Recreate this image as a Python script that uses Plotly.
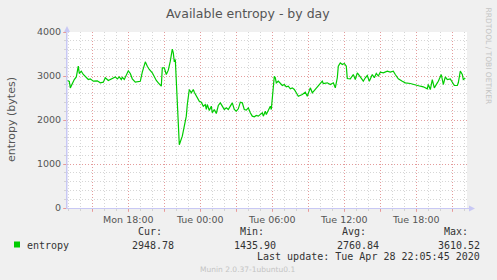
import plotly.graph_objects as go
import pandas as pd

# ---------------- data ----------------
start_time = "2020-04-27 12:55"
offsets_min = [0, 10, 15, 25, 35, 45, 55, 60, 70, 80, 95, 105, 115, 130, 150, 165, 180, 190, 205, 225,
               240, 250, 260, 270, 275, 285, 295, 305, 315, 325, 340, 355, 365, 375, 380, 390, 400, 410, 425, 435,
               445, 455, 470, 475, 485, 495, 505, 515, 525, 530, 535, 540, 550, 555, 560, 575, 585, 595, 600, 610,
               620, 630, 635, 650, 660, 670, 680, 690, 695, 700, 710, 720, 725, 735, 745, 755, 765, 775, 785, 795,
               805, 815, 825, 835, 845, 855, 865, 875, 885, 895, 905, 915, 925, 935, 945, 955, 965, 975, 980, 990,
               995, 1005, 1015, 1020, 1025, 1030, 1035, 1040, 1045, 1055, 1065, 1075, 1085, 1095, 1105, 1115, 1125, 1135, 1145, 1155,
               1175, 1190, 1200, 1215, 1225, 1240, 1255, 1275, 1280, 1300, 1315, 1330, 1340, 1350, 1355, 1365, 1375, 1385, 1395, 1400,
               1415, 1430, 1440, 1450, 1465, 1480, 1490, 1500, 1510, 1525, 1535, 1545, 1555, 1565, 1580, 1600, 1615, 1630, 1640, 1655,
               1675, 1690, 1715, 1730, 1750, 1765, 1780, 1800, 1805, 1815, 1825, 1835, 1850, 1855, 1870, 1880, 1890, 1900, 1915, 1925,
               1935, 1950, 1955, 1965, 1975, 1980, 1990]
entropy = [2898, 2875, 2730, 2845, 2920, 2980, 3223, 3057, 3110, 3034, 2960, 2920, 2936, 2882, 2890, 2845, 2860, 2960, 2898, 2950,
           2980, 2936, 2980, 2920, 2970, 2920, 3034, 3118, 3057, 2936, 2860, 2875, 2880, 3087, 3163, 3322, 3223, 3148, 3072, 2980,
           2898, 2845, 2768, 3186, 3186, 3034, 3133, 3337, 3610.52, 3527, 3322, 3375, 2500, 1900, 1435.90, 1632, 1898, 2087, 2352, 2693,
           2618, 2693, 2632, 2504, 2427, 2405, 2314, 2352, 2239, 2352, 2216, 2314, 2164, 2239, 2148, 2330, 2390, 2314, 2239, 2277,
           2239, 2314, 2390, 2239, 2200, 2254, 2405, 2390, 2239, 2225, 2277, 2164, 2087, 2072, 2103, 2087, 2125, 2164, 2087, 2200,
           2125, 2239, 2314, 2239, 2466, 2807, 2995, 2960, 2845, 2882, 2830, 2784, 2807, 2754, 2768, 2709, 2731, 2693, 2618, 2541,
           2580, 2632, 2541, 2731, 2618, 2693, 2784, 2882, 2830, 2845, 2807, 2845, 2731, 2960, 3223, 3299, 3261, 3284, 3223, 2943,
           2936, 3034, 2920, 3072, 2980, 2882, 2960, 3011, 2882, 3034, 2960, 3057, 3000, 3087, 3072, 3110, 3087, 3110, 3034, 2936,
           2882, 2845, 2830, 2807, 2792, 2768, 2754, 2709, 2807, 2693, 2920, 2731, 2845, 2882, 3034, 2807, 2980, 2920, 2936, 2845,
           2784, 2784, 2845, 3110, 3034, 2920, 2948.78]

x_range = ["2020-04-27 12:53:30", "2020-04-28 22:13:30"]
tick_times = ["2020-04-27 15:00", "2020-04-27 18:00", "2020-04-27 21:00", "2020-04-28 00:00",
              "2020-04-28 03:00", "2020-04-28 06:00", "2020-04-28 09:00", "2020-04-28 12:00",
              "2020-04-28 15:00", "2020-04-28 18:00", "2020-04-28 21:00"]
tick_labels = ["", "Mon 18:00", "", "Tue 00:00", "", "Tue 06:00", "", "Tue 12:00", "", "Tue 18:00", ""]
y_ticks = [0, 1000, 2000, 3000, 4000]

series_name = "entropy"
stat_headers = ["Cur:", "Min:", "Avg:", "Max:"]
stat_values = ["2948.78", "1435.90", "2760.84", "3610.52"]
title = "Available entropy - by day"
y_title = "entropy (bytes)"
last_update = "Last update: Tue Apr 28 22:05:45 2020"
footer = "Munin 2.0.37-1ubuntu0.1"
side_text = "RRDTOOL / TOBI OETIKER"

# ---------------- layout helpers ----------------
W, H = 497, 280
L, R, T, B = 67, 30, 32, 72
PW, PH = W - L - R, H - T - B


def px(x):
    return (x - L) / PW


def py(y):
    return (H - B - y) / PH


times = pd.Timestamp(start_time) + pd.to_timedelta(offsets_min, unit="min")

SANS = "DejaVu Sans"
MONO = "DejaVu Sans Mono"
MAJ = "rgba(240,110,110,0.55)"
MIN = "rgba(200,200,200,0.75)"
AXIS = "#c8c8f4"
TXT = "#555555"

fig = go.Figure()
fig.add_trace(go.Scatter(x=times, y=entropy, mode="lines",
                         line=dict(color="#00cc00", width=1.2), showlegend=False,
                         hoverinfo="skip"))

fig.update_layout(
    width=W, height=H,
    margin=dict(l=L, r=R, t=T, b=B),
    paper_bgcolor="#f0f0f0", plot_bgcolor="#ffffff",
    font=dict(family=SANS, size=9.5, color=TXT),
    showlegend=False,
)

fig.update_xaxes(
    type="date", range=x_range,
    tickmode="array", tickvals=tick_times, ticktext=tick_labels,
    showgrid=True, gridcolor=MAJ, griddash="1px,2px", gridwidth=1,
    ticks="outside", ticklen=3, tickcolor=MAJ,
    tickfont=dict(family=SANS, size=9.5, color=TXT),
    minor=dict(tickmode="linear", tick0="2020-04-27 00:00", dtick=3600000,
               showgrid=True, gridcolor=MIN, griddash="1px,2px", gridwidth=1,
               ticks="outside", ticklen=2, tickcolor=MIN),
    showline=True, linecolor=AXIS, linewidth=1,
    zeroline=False, fixedrange=True,
)
fig.update_yaxes(
    range=[0, 4000], tickmode="array", tickvals=y_ticks,
    ticktext=[str(v) for v in y_ticks],
    showgrid=True, gridcolor=MAJ, griddash="1px,2px", gridwidth=1,
    ticks="outside", ticklen=3, tickcolor=MAJ,
    tickfont=dict(family=SANS, size=9.5, color=TXT),
    minor=dict(tickmode="linear", tick0=0, dtick=200,
               showgrid=True, gridcolor=MIN, griddash="1px,2px", gridwidth=1,
               ticks="outside", ticklen=2, tickcolor=MIN),
    showline=True, linecolor=AXIS, linewidth=1,
    zeroline=False, fixedrange=True,
)

shapes = []
# axis extensions with arrow heads
shapes.append(dict(type="line", xref="paper", yref="paper", x0=px(67), x1=px(470),
                   y0=py(208.5), y1=py(208.5), line=dict(color=AXIS, width=1)))
shapes.append(dict(type="path", xref="paper", yref="paper",
                   path=f"M {px(469)} {py(205.5)} L {px(475)} {py(208.5)} L {px(469)} {py(211.5)} Z",
                   fillcolor=AXIS, line=dict(color=AXIS, width=0)))
shapes.append(dict(type="line", xref="paper", yref="paper", x0=px(67), x1=px(67),
                   y0=py(208.5), y1=py(30), line=dict(color=AXIS, width=1)))
shapes.append(dict(type="path", xref="paper", yref="paper",
                   path=f"M {px(64)} {py(32)} L {px(67)} {py(26)} L {px(70)} {py(32)} Z",
                   fillcolor=AXIS, line=dict(color=AXIS, width=0)))
# legend swatch
shapes.append(dict(type="rect", xref="paper", yref="paper",
                   x0=px(14), x1=px(20), y0=py(247.5), y1=py(241.5),
                   fillcolor="#00cc00", line=dict(color="#00cc00", width=0)))

ann = []
ann.append(dict(text=title, x=px(248), y=py(14), xref="paper", yref="paper",
                showarrow=False, font=dict(family=SANS, size=12.5, color=TXT),
                xanchor="center", yanchor="middle"))
ann.append(dict(text=y_title, x=px(12), y=py(119), xref="paper", yref="paper",
                showarrow=False, textangle=-90, font=dict(family=SANS, size=11, color=TXT),
                xanchor="center", yanchor="middle"))
ann.append(dict(text=side_text, x=px(488.5), y=py(56), xref="paper", yref="paper",
                showarrow=False, textangle=90, font=dict(family=SANS, size=7.5, color="#c4c4c4"),
                xanchor="center", yanchor="middle"))
ann.append(dict(text=series_name, x=px(25), y=py(245), xref="paper", yref="paper",
                showarrow=False, font=dict(family=MONO, size=10, color="#333333"),
                xanchor="left", yanchor="middle"))
hdr_right = [164, 266, 368, 470]
val_right = [176, 278, 381, 482]
for h, v, hx, vx in zip(stat_headers, stat_values, hdr_right, val_right):
    ann.append(dict(text=h, x=px(hx), y=py(232), xref="paper", yref="paper",
                    showarrow=False, font=dict(family=MONO, size=10, color="#333333"),
                    xanchor="right", yanchor="middle"))
    ann.append(dict(text=v, x=px(vx), y=py(245), xref="paper", yref="paper",
                    showarrow=False, font=dict(family=MONO, size=10, color="#333333"),
                    xanchor="right", yanchor="middle"))
ann.append(dict(text=last_update, x=px(482), y=py(256), xref="paper", yref="paper",
                showarrow=False, font=dict(family=MONO, size=10, color="#333333"),
                xanchor="right", yanchor="middle"))
ann.append(dict(text=footer, x=px(247.5), y=py(269), xref="paper", yref="paper",
                showarrow=False, font=dict(family=SANS, size=7.5, color="#c4c4c4"),
                xanchor="center", yanchor="middle"))

fig.update_layout(shapes=shapes, annotations=ann)

fig.write_html("out.html", config={"displayModeBar": False})
